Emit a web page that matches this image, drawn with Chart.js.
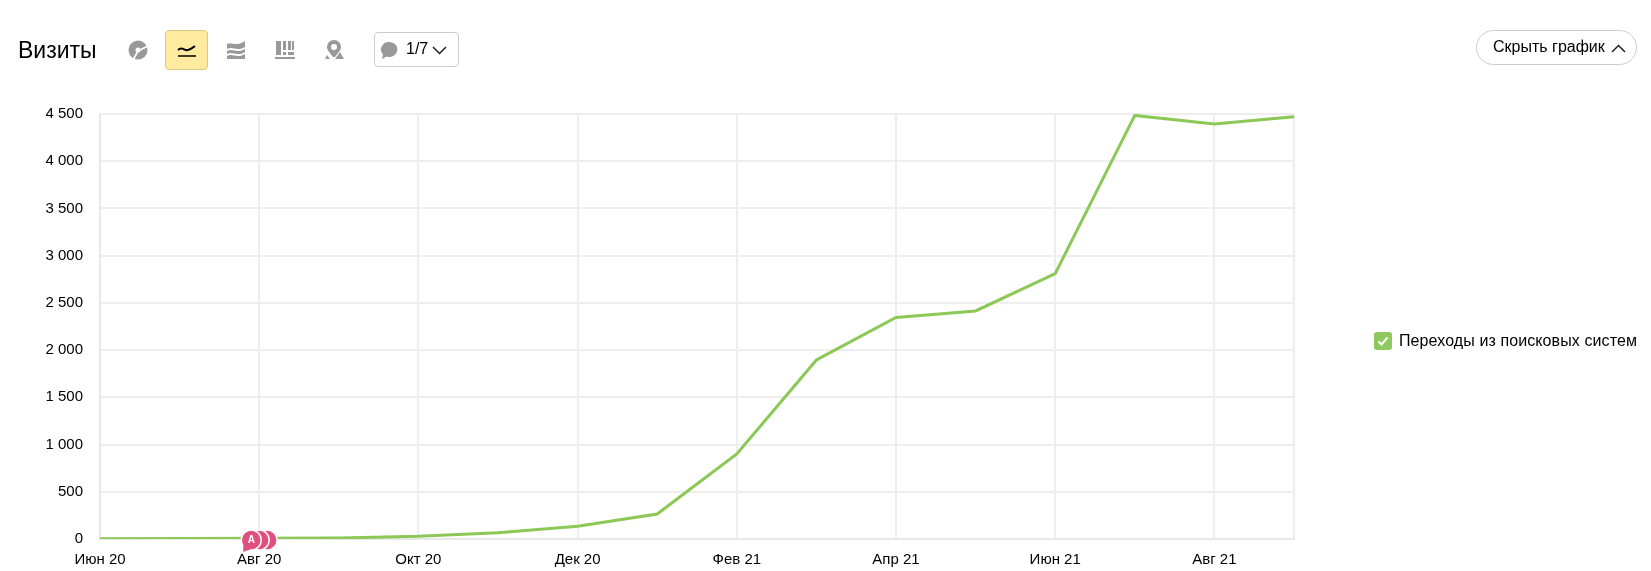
<!DOCTYPE html>
<html>
<head>
<meta charset="utf-8">
<script src="https://cdn.jsdelivr.net/npm/chart.js@4"></script>
<style>
  html, body { margin: 0; padding: 0; background: #fff; }
  body { width: 1651px; height: 571px; position: relative; overflow: hidden; font-family: "Liberation Sans", Arial, sans-serif; color: #000; }
  canvas { position: absolute; left: 0; top: 0; }
  .abs { position: absolute; box-sizing: border-box; }
  .title { left: 18px; top: 36px; font-size: 23px; line-height: 28px; }
  .icon { width: 20px; height: 20px; }
  .active { left: 165px; top: 30px; width: 43px; height: 40px; background: #ffeba0; border: 1px solid #dcc77f; border-radius: 4px; }
  .drop { left: 374px; top: 32px; width: 85px; height: 35px; border: 1px solid #ccc; border-radius: 4px; }
  .drop span { position: absolute; left: 31px; top: 7px; font-size: 16px; line-height: 18px; }
  .hide { left: 1476px; top: 30px; width: 161px; height: 35px; border: 1px solid #ccc; border-radius: 18px; }
  .hide span { position: absolute; left: 16px; top: 7px; font-size: 16px; line-height: 18px; white-space: nowrap; }
  .check { left: 1374px; top: 332px; width: 18px; height: 18px; background: #8fc85e; border-radius: 3px; }
  .legend { left: 1399px; top: 332px; font-size: 16px; line-height: 18px; letter-spacing: 0.1px; white-space: nowrap; }
</style>
</head>
<body>
<canvas id="visitsChart" width="1651" height="571"></canvas>

<div class="abs title">Визиты</div>

<!-- toolbar -->
<svg class="abs icon" style="left:128px;top:40px" viewBox="0 0 20 20"><circle cx="10" cy="10" r="6" fill="none" stroke="#999" stroke-width="7"/><path d="M10 11L20 6M10 11L5 20" stroke="#fff" stroke-width="1.800"/></svg>
<div class="abs active"></div>
<svg class="abs icon" style="left:177px;top:40px" viewBox="0 0 20 20"><path d="M1 10c3-3 5-1 8 0s5-1 9-4" fill="none" stroke="#000" stroke-width="2"/><path d="M1 16h18" stroke="#000" stroke-width="1.500"/></svg>
<svg class="abs icon" style="left:226px;top:40px" viewBox="0 0 20 20"><path d="M1 4c6-2 9 3 18-3v6c-9 5-12-1-18 2zM1 11c6-3 9 3 18-2v3c-9 5-12-1-18 2zM1 16c6-3 9 3 18-2v5H1z" fill="#999"/></svg>
<svg class="abs icon" style="left:275px;top:39px" viewBox="0 0 20 20"><path d="M1 2h5v14H1zM8 2h3v9H8zM8 13h3v3H8zM13 2h3v9h-3zM17 2h2v9h-2zM13 13h6v3h-6zM0 18h20v2H0z" fill="#999"/></svg>
<svg class="abs icon" style="left:324px;top:40px" viewBox="0 0 20 20"><path d="M10 0a7 7 0 0 1 7 7c0 3-3 6-6 10h-2C6 13 3 10 3 7a7 7 0 0 1 7-7z" fill="#999"/><circle cx="10" cy="7" r="3" fill="#fff"/><path d="M1 19l2-4 3 4zM11 19l5-7 4 7z" fill="#999"/></svg>
<div class="abs drop">
  <svg class="abs" style="left:5px;top:8px" width="19" height="19" viewBox="0 0 19 19"><path d="M9.500 1a8 7.500 0 1 1-3 14.500L2 18l1-4.500A8 7.500 0 0 1 9.500 1z" fill="#999"/></svg>
  <span>1/7</span>
  <svg class="abs" style="left:57px;top:13px" width="15" height="9" viewBox="0 0 15 9"><path d="M1 1l6.500 6.500L14 1" fill="none" stroke="#222" stroke-width="1.500"/></svg>
</div>
<div class="abs hide">
  <span>Скрыть график</span>
  <svg class="abs" style="left:134px;top:13px" width="15" height="9" viewBox="0 0 15 9"><path d="M1 8l6.500-6.500L14 8" fill="none" stroke="#222" stroke-width="1.500"/></svg>
</div>

<!-- legend -->
<div class="abs check"><svg width="18" height="18" viewBox="0 0 18 18"><path d="M4.500 9.500l3 3 6-7" fill="none" stroke="#fff" stroke-width="2"/></svg></div>
<div class="abs legend">Переходы из поисковых систем</div>

<script>
const months = ['Июн 20', 'Июл 20', 'Авг 20', 'Сен 20', 'Окт 20', 'Ноя 20', 'Дек 20', 'Янв 21', 'Фев 21', 'Мар 21', 'Апр 21', 'Май 21', 'Июн 21', 'Июл 21', 'Авг 21', 'Сен 21'];
const searchVisits = [2, 4, 8, 10, 28, 65, 135, 265, 900, 1895, 2345, 2415, 2810, 4485, 4395, 4470];
const notePositions = [2.1, 2.0, 1.9]; // month index, drawn back to front
const noteLabel = 'А';

// Annotation bubbles sit on the x axis
const notesPlugin = {
    id: 'notes',
    afterDatasetsDraw: function(chart) {
        const ctx = chart.ctx;
        const xScale = chart.scales.x;
        const y = chart.scales.y.getPixelForValue(0) + 1;
        ctx.save();
        notePositions.forEach(function(pos, i) {
            const x = xScale.getPixelForValue(pos);
            ctx.beginPath();
            ctx.arc(x, y, 10, 0, Math.PI * 2);
            ctx.fillStyle = '#e0507e';
            ctx.strokeStyle = '#fff';
            ctx.lineWidth = 1.5;
            ctx.fill();
            ctx.stroke();
            if (i === notePositions.length - 1) {
                ctx.beginPath();
                ctx.moveTo(x - 8, y + 5);
                ctx.lineTo(x - 8, y + 12);
                ctx.lineTo(x, y + 9);
                ctx.closePath();
                ctx.fill();
                ctx.fillStyle = '#fff';
                ctx.font = 'bold 10px "Liberation Sans"';
                ctx.textAlign = 'center';
                ctx.textBaseline = 'middle';
                ctx.fillText(noteLabel, x, y);
            }
        });
        ctx.restore();
    }
};

new Chart(document.getElementById('visitsChart'), {
    type: 'line',
    data: {
        labels: months,
        datasets: [{
            label: 'Переходы из поисковых систем',
            data: searchVisits,
            borderColor: '#8bc855',
            borderWidth: 3,
            pointRadius: 0,
            tension: 0,
            fill: false
        }]
    },
    plugins: [notesPlugin],
    options: {
        responsive: false,
        animation: false,
        layout: {
            autoPadding: false,
            padding: { top: 114, right: 357, left: 0, bottom: 0 }
        },
        scales: {
            x: {
                afterFit: function(scale) { scale.height = 32; },
                offset: false,
                border: { color: '#e8e8e8', width: 2 },
                grid: {
                    drawTicks: false,
                    lineWidth: 2,
                    color: function(c) {
                        return (c.index % 2 === 0 || c.index === months.length - 1) ? '#eeeeee' : 'transparent';
                    }
                },
                ticks: {
                    autoSkip: false,
                    maxRotation: 0,
                    padding: 12,
                    color: '#000',
                    font: { family: '"Liberation Sans"', size: 15 },
                    callback: function(value, index) {
                        return index % 2 === 0 ? months[index] : '';
                    }
                }
            },
            y: {
                min: 0,
                max: 4500,
                afterFit: function(scale) { scale.width = 100; },
                border: { color: '#e8e8e8', width: 2 },
                grid: { drawTicks: false, lineWidth: 2, color: '#eeeeee' },
                ticks: {
                    stepSize: 500,
                    padding: 17,
                    color: '#000',
                    font: { family: '"Liberation Sans"', size: 15 },
                    callback: function(value) {
                        return String(value).replace(/\B(?=(\d{3})+$)/g, ' ');
                    }
                }
            }
        },
        plugins: {
            legend: { display: false },
            tooltip: { enabled: false }
        }
    }
});
</script>
</body>
</html>
